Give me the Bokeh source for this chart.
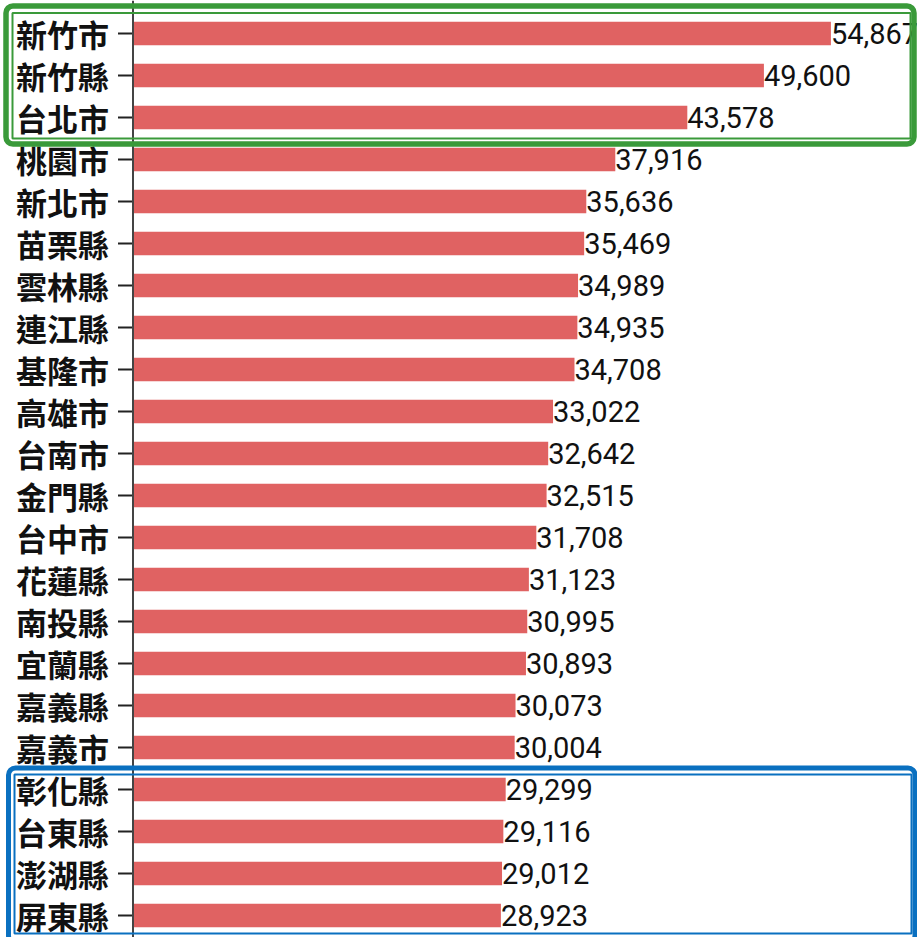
import numpy as np
from bokeh.plotting import figure
from bokeh.models import ColumnDataSource, Range1d, BoxAnnotation, Span
from bokeh.core.properties import value
from bokeh.embed import file_html
from bokeh.resources import INLINE

cats = ["新竹市", "新竹縣", "台北市", "桃園市", "新北市", "苗栗縣", "雲林縣", "連江縣",
        "基隆市", "高雄市", "台南市", "金門縣", "台中市", "花蓮縣", "南投縣", "宜蘭縣",
        "嘉義縣", "嘉義市", "彰化縣", "台東縣", "澎湖縣", "屏東縣"]
vals = [54867, 49600, 43578, 37916, 35636, 35469, 34989, 34935, 34708, 33022, 32642,
        32515, 31708, 31123, 30995, 30893, 30073, 30004, 29299, 29116, 29012, 28923]
labels = [f"{v:,}" for v in vals]

W, H = 917, 937
row_px = 42.0          # pixel height of one category band
axis_px = 132.5        # pixel position of the value axis (x = 0)
top_px = 12.0          # pixel position of the top of the first band
px_per_val = 0.01272

pos = list(range(len(cats)))
src = ColumnDataSource(dict(cat=cats, pos=pos, val=vals, lab=labels))

y_top = -0.5 - top_px / row_px
y_bot = y_top + H / row_px
x_lo = -axis_px / px_per_val
x_hi = (W - axis_px) / px_per_val

p = figure(width=W, height=H, output_backend="svg", toolbar_location=None,
           x_range=Range1d(x_lo, x_hi), y_range=Range1d(y_bot, y_top),
           x_axis_location=None, y_axis_location=None,
           min_border=0)
p.outline_line_color = None
p.grid.visible = False
p.background_fill_color = "white"
p.border_fill_color = "white"

# bars
p.hbar(y="pos", right="val", left=0, height=0.56, source=src,
       fill_color="#e06262", line_color=None)

# value labels
p.text(x="val", y="pos", text="lab", source=src, x_offset=0,
       text_baseline="middle", text_align="left",
       text_font=value("Roboto"), text_font_size="29px",
       text_color="#111111")

# category axis: line, ticks, labels
p.add_layout(Span(location=0, dimension="height", line_color="#444444", line_width=2))
p.ray(x=0, y="pos", length=15, length_units="screen", angle=np.pi, source=src,
      line_color="#222222", line_width=2)
p.text(x=0, y="pos", text="cat", source=src, x_offset=-24,
       text_baseline="middle", text_align="right",
       text_font=value("Noto Sans CJK TC"), text_font_size="31px",
       text_font_style="bold", text_color="#111111")

def box(l, r, t, b, color, w, radius=0):
    return BoxAnnotation(left=l, right=r, top=t, bottom=b,
                         left_units="canvas", right_units="canvas",
                         top_units="canvas", bottom_units="canvas",
                         fill_color=None, fill_alpha=0, line_color=color, line_alpha=1,
                         line_width=w, border_radius=radius, level="overlay")

green = "#3a9a3a"
blue = "#0a70c0"
p.add_layout(box(5.5, 913.5, 5.5, 143.5, green, 5.5, 7))
p.add_layout(box(12, 910, 12.5, 138, green, 2))
p.add_layout(box(8, 914.5, 767.5, 942, blue, 5, 7))
p.add_layout(box(14, 911, 774, 933, blue, 2))

open("out.html", "w").write(file_html(p, INLINE))
